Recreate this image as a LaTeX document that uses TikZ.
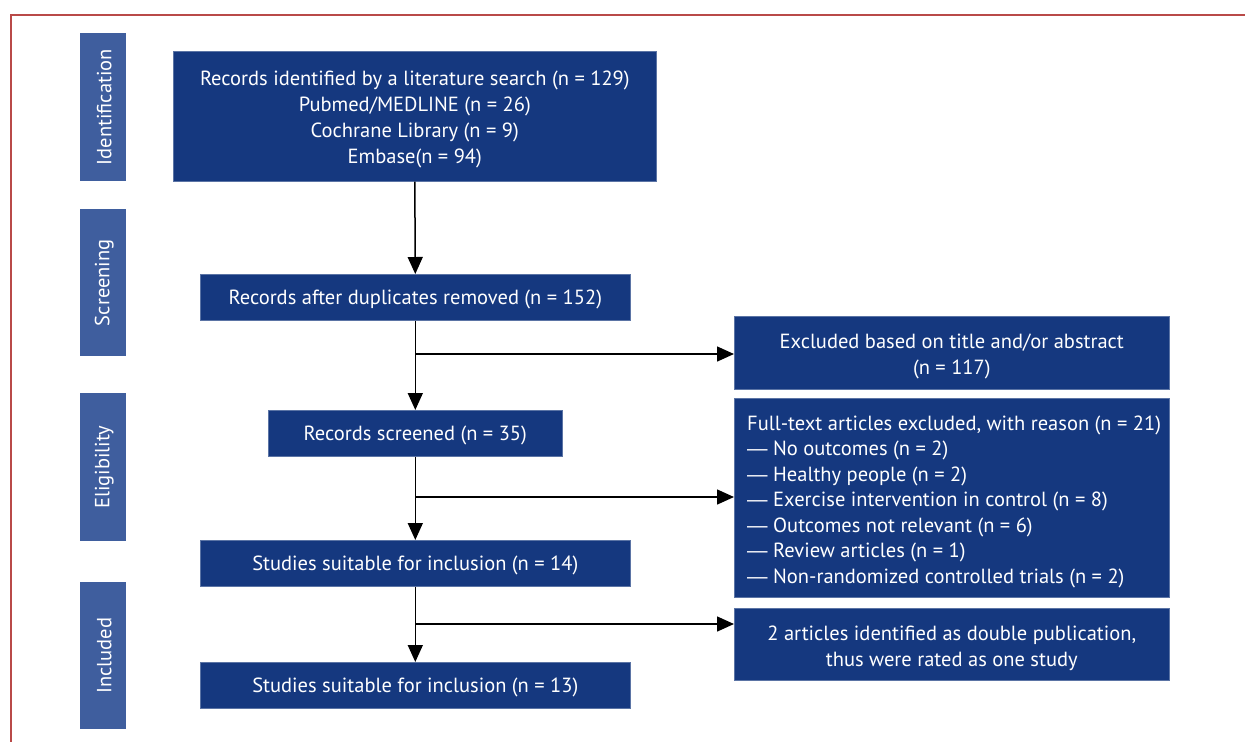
\documentclass[tikz,border=0pt]{standalone}
\usepackage{fontspec}
\setmainfont{PT Sans}
\newfontfamily\dashfont{Liberation Sans}
\usetikzlibrary{arrows.meta}
\definecolor{boxblue}{HTML}{15387F}
\definecolor{sideblue}{HTML}{3F5E9E}
\definecolor{framered}{HTML}{B94A48}
\newcommand{\mdash}{{\dashfont —}}
\tikzset{
  box/.style={draw=boxblue!70!white, line width=0.6pt, fill=boxblue, inner sep=0pt, anchor=north west},
  side/.style={fill=sideblue, inner sep=0pt, anchor=north west},
  txt/.style={text=white, font=\fontsize{20.5}{26}\selectfont, inner sep=0pt},
  conn/.style={line width=1.5pt, -{Triangle[length=17pt,width=15pt]}},
}
\begin{document}
\begin{tikzpicture}[x=1pt,y=-1pt]
\useasboundingbox (0,0) rectangle (1245,742);
\draw[framered, line width=1.6pt] (1245,15) -- (11,15) -- (11,742);
% side labels
\node[side, minimum width=46pt, minimum height=148pt] (s1) at (80,33) {};
\node[txt, rotate=90] at ([xshift=1pt]s1.center) {Identification};
\node[side, minimum width=46pt, minimum height=147pt] (s2) at (80,209) {};
\node[txt, rotate=90] at ([xshift=1pt]s2.center) {Screening};
\node[side, minimum width=46pt, minimum height=148pt] (s3) at (80,393) {};
\node[txt, rotate=90] at ([xshift=1pt]s3.center) {Eligibility};
\node[side, minimum width=46pt, minimum height=147pt] (s4) at (80,582) {};
\node[txt, rotate=90] at ([xshift=1pt]s4.center) {Included};
% main boxes
\node[box, minimum width=483pt, minimum height=130pt] (b1) at (173,51) {};
\node[txt, align=center] at ([yshift=-3pt]b1.center) {Records identified by a literature search (n = 129)\\Pubmed/MEDLINE (n = 26)\\Cochrane Library (n = 9)\\Embase(n = 94)};
\node[box, minimum width=430pt, minimum height=46pt] (b2) at (200,274) {};
\node[txt] at ([yshift=-2pt]b2.center) {Records after duplicates removed (n = 152)};
\node[box, minimum width=294pt, minimum height=46pt] (b3) at (268,410) {};
\node[txt] at ([yshift=-2pt]b3.center) {Records screened (n = 35)};
\node[box, minimum width=430pt, minimum height=46pt] (b4) at (200,540) {};
\node[txt] at ([yshift=-2pt]b4.center) {Studies suitable for inclusion (n = 14)};
\node[box, minimum width=430pt, minimum height=46pt] (b5) at (200,662) {};
\node[txt] at ([yshift=-2pt]b5.center) {Studies suitable for inclusion (n = 13)};
% exclusion boxes
\node[box, minimum width=435pt, minimum height=73pt] (e1) at (734,316) {};
\node[txt, align=center] at ([yshift=-4pt]e1.center) {Excluded based on title and/or abstract\\(n = 117)};
\node[box, minimum width=435pt, minimum height=199pt] (e2) at (734,398) {};
\node[txt, font=\fontsize{20.5}{25.5}\selectfont, align=left, anchor=west] at ([xshift=13pt,yshift=-4pt]e2.west) {Full-text articles excluded, with reason (n = 21)\\\mdash\ No outcomes (n = 2)\\\mdash\ Healthy people (n = 2)\\\mdash\ Exercise intervention in control (n = 8)\\\mdash\ Outcomes not relevant (n = 6)\\\mdash\ Review articles (n = 1)\\\mdash\ Non-randomized controlled trials (n = 2)};
\node[box, minimum width=435pt, minimum height=72pt] (e3) at (734,608) {};
\node[txt, align=center] at ([yshift=-4pt]e3.center) {2 articles identified as double publication,\\thus were rated as one study};
% connectors
\coordinate (j1) at (b2.south |- 0,354);
\coordinate (j2) at (b3.south |- 0,497);
\coordinate (j3) at (b4.south |- 0,624);
\draw[conn] (b1.south) -- (b2.north);
\draw[conn] (b2.south) -- (b3.north);
\draw[conn] (j1) -- (j1 -| e1.west);
\draw[conn] (b3.south) -- (b4.north);
\draw[conn] (j2) -- (j2 -| e2.west);
\draw[conn] (b4.south) -- (b5.north);
\draw[conn] (j3) -- (j3 -| e3.west);
\end{tikzpicture}
\end{document}
